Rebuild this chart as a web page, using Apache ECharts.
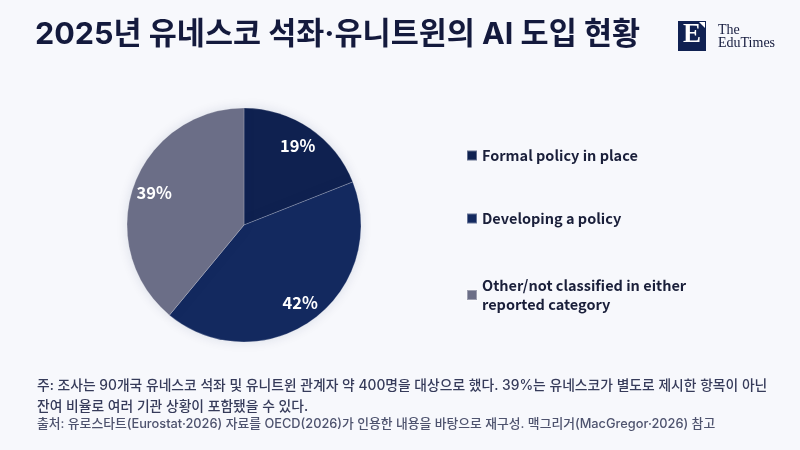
<!DOCTYPE html>
<html>
<head>
<meta charset="utf-8">
<script src="https://cdn.jsdelivr.net/npm/echarts@6/dist/echarts.min.js"></script>
<style>
  html, body { margin: 0; padding: 0; background: #f7f8fc; }
  #chartmain { width: 800px; height: 450px; }
</style>
</head>
<body>
<div id="chartmain"></div>
<script>
var categories = ['Formal policy in place', 'Developing a policy', 'Other/not classified in either reported category'];
var legendLabels = ['Formal policy in place', 'Developing a policy', 'Other/not classified in either\nreported category'];
var shares = [19, 42, 39];
var colors = ['#0f2150', '#13295f', '#6b6e87'];

var titleText = '2025년 유네스코 석좌·유니트윈의 AI 도입 현황';
var noteLines = [
	'주: 조사는 90개국 유네스코 석좌 및 유니트윈 관계자 약 400명을 대상으로 했다. 39%는 유네스코가 별도로 제시한 항목이 아닌',
	'잔여 비율로 여러 기관 상황이 포함됐을 수 있다.'
];
var sourceText = '출처: 유로스타트(Eurostat·2026) 자료를 OECD(2026)가 인용한 내용을 바탕으로 재구성. 맥그리거(MacGregor·2026) 참고';

var font = '"Noto Sans CJK KR", "Noto Sans", sans-serif';
var mixFont = 'Inter, "Noto Sans CJK KR", sans-serif';

var pieData = [];
for (var i = 0; i < categories.length; i++) {
	pieData.push({
		name: categories[i],
		value: shares[i],
		itemStyle: { color: colors[i] }
	});
}

// one legend per item so each row sits where the reference puts it
var legendTops = [141, 204, 271];
var legends = [];
for (var i = 0; i < categories.length; i++) {
	legends.push({
		data: [categories[i]],
		orient: 'vertical',
		left: 461,
		top: legendTops[i],
		icon: 'rect',
		itemWidth: 10,
		itemHeight: 10,
		selectedMode: false,
		formatter: (function(label) {
			return function() { return label; };
		})(legendLabels[i]),
		textStyle: {
			fontFamily: font,
			fontSize: 14.5,
			fontWeight: 'bold',
			color: '#1a1f3a',
			lineHeight: 19
		}
	});
}

var option = {
	backgroundColor: '#f7f8fc',
	animation: false,
	title: {
		text: titleText,
		left: 30,
		top: 15,
		textStyle: {
			fontFamily: mixFont,
			fontSize: 30.5,
			fontWeight: 'bold',
			color: '#141a3d'
		}
	},
	legend: legends,
	series: [{
		type: 'pie',
		center: [244, 225],
		radius: 117,
		startAngle: 90,
		clockwise: true,
		data: pieData,
		label: { show: false },
		labelLine: { show: false },
		emphasis: { disabled: true },
		itemStyle: {
			borderColor: 'rgba(255,255,255,0.35)',
			borderWidth: 0.6,
			shadowBlur: 12,
			shadowColor: 'rgba(20,30,80,0.12)'
		}
	}, {
		// transparent ring only to place the labels further out
		type: 'pie',
		center: [244, 225],
		radius: [68, 117],
		startAngle: 90,
		clockwise: true,
		silent: true,
		legendHoverLink: false,
		data: pieData.map(function(d) {
			return { name: d.name, value: d.value, itemStyle: { color: 'rgba(0,0,0,0)' } };
		}),
		itemStyle: { borderWidth: 0 },
		emphasis: { disabled: true },
		label: {
			show: true,
			position: 'inside',
			formatter: '{c}%',
			fontFamily: font,
			fontSize: 16.5,
			fontWeight: 'bold',
			color: '#ffffff'
		},
		labelLine: { show: false }
	}],
	graphic: [
		{ type: 'rect', left: 678, top: 21, shape: { width: 28, height: 30 }, style: { fill: '#102152' } },
		{ type: 'polygon', shape: { points: [[699, 22], [705, 22], [705, 28]] }, style: { fill: '#ffffff' } },
		{ type: 'text', left: 683, top: 22, style: { text: 'E', font: 'bold 27px "Liberation Serif", serif', fill: '#ffffff' } },
		{ type: 'text', left: 718, top: 23, style: { text: 'The', font: '14px "Liberation Serif", serif', fill: '#141a3d' } },
		{ type: 'text', left: 718, top: 36, style: { text: 'EduTimes', font: '14px "Liberation Serif", serif', fill: '#141a3d' } },
		{ type: 'text', left: 37, top: 379, style: { text: noteLines[0], font: '500 13.8px ' + mixFont, fill: '#363b5a' } },
		{ type: 'text', left: 37, top: 400, style: { text: noteLines[1], font: '500 13.8px ' + mixFont, fill: '#363b5a' } },
		{ type: 'text', left: 37, top: 418, style: { text: sourceText, font: '500 12.8px ' + mixFont, fill: '#4e536e' } }
	]
};

var myChart = echarts.init(document.getElementById('chartmain'));
myChart.setOption(option);
</script>
</body>
</html>
